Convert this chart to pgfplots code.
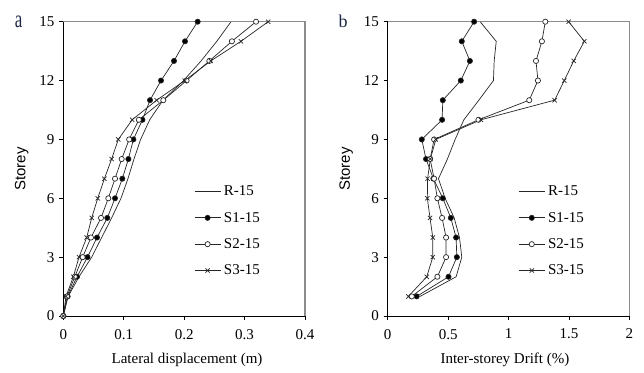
\documentclass[border=0pt]{standalone}
\usepackage{fontspec}
\usepackage{pgfplots}
\pgfplotsset{compat=1.18}
\setmainfont{Liberation Serif}
\newfontfamily\sansf{Liberation Sans}
\newcommand{\tf}{\fontsize{15bp}{18bp}\selectfont}
\definecolor{lab}{RGB}{30,40,70}
\pgfplotsset{
  base/.style={
    scale only axis, width=241.7bp, height=294.3bp,
    ymin=0, ymax=15, ytick={0,3,6,9,12,15},
    axis x line*=bottom, axis y line*=left,
    axis line style={black, line width=0.9bp},
    tick align=outside, major tick length=4bp,
    tick style={black, line width=0.8bp},
    /pgf/number format/assume math mode=true,
    ticklabel style={font=\tf},
    xticklabel style={yshift=-5.5bp},
    yticklabel style={xshift=-1.4bp},
    clip=false,
    ylabel={Storey},
    ylabel style={font=\sansf\fontsize{15bp}{18bp}\selectfont, at={(axis description cs:-0.172,0.5)}, anchor=center},
    every axis plot/.append style={line width=0.7bp, black!85, sharp plot},
    legend image code/.code={\draw[mark repeat=2,mark phase=2,##1] plot coordinates {(0bp,0bp)(13bp,0bp)(26bp,0bp)};},
    legend style={draw=none, fill=none, font=\tf, row sep=14.9bp, inner sep=0pt,
      nodes={inner xsep=3bp, inner ysep=0pt}},
    legend cell align=left,
  },
  s1/.style={mark=*, mark size=2.6bp, mark options={fill=black, solid}},
  s2/.style={mark=*, mark size=2.6bp, mark options={fill=white, solid}},
  s3/.style={mark=x, mark size=3bp, mark options={solid}},
}
\begin{document}
\begin{tikzpicture}[x=1bp,y=1bp]
\path[use as bounding box] (0,0) rectangle (644,372);
\node[font=\fontsize{17bp}{20bp}\selectfont, text=lab, anchor=base, yscale=1.45] at (18.7,344.7) {a};
\node[font=\fontsize{18bp}{20bp}\selectfont, text=lab, anchor=base] at (343,344.5) {b};
\begin{axis}[base, at={(63.3bp,56bp)}, anchor=south west,
  xmin=0, xmax=0.4, xtick={0,0.1,0.2,0.3,0.4},
  xticklabels={0,0.1,0.2,0.3,0.4},
  xlabel={Lateral displacement (m)},
  xlabel style={font=\tf, at={(axis description cs:0.512,-0.163)}, anchor=base},
  legend style={at={(axis description cs:0.541,0.443)}, anchor=north west}]
\addplot[] coordinates {(0,0)(0.008,1)(0.026,2)(0.047,3)(0.0635,4)(0.080,5)(0.0955,6)(0.107,7)(0.117,8)(0.128,9)(0.143,10)(0.165,11)(0.199,12)(0.228,13)(0.254,14)(0.2776,15)};
\addlegendentry{R-15}
\addplot[s1] coordinates {(0,0)(0.0072,1)(0.0227,2)(0.040,3)(0.0558,4)(0.0728,5)(0.0856,6)(0.0977,7)(0.1077,8)(0.116,9)(0.131,10)(0.1435,11)(0.1617,12)(0.1832,13)(0.2014,14)(0.2224,15)};
\addlegendentry{S1-15}
\addplot[s2] coordinates {(0,0)(0.006,1)(0.019,2)(0.032,3)(0.0458,4)(0.0624,5)(0.0745,6)(0.0856,7)(0.0966,8)(0.109,9)(0.125,10)(0.1655,11)(0.204,12)(0.2417,13)(0.279,14)(0.319,15)};
\addlegendentry{S2-15}
\addplot[s3] coordinates {(0,0)(0.0045,1)(0.0166,2)(0.026,3)(0.0387,4)(0.047,5)(0.057,6)(0.068,7)(0.080,8)(0.091,9)(0.114,10)(0.1545,11)(0.201,12)(0.244,13)(0.294,14)(0.339,15)};
\addlegendentry{S3-15}
\draw[black!45, line width=1.4bp] (rel axis cs:0,1) -- (rel axis cs:1,1) -- (rel axis cs:1,0);
\end{axis}
\begin{axis}[base, at={(387.7bp,56bp)}, anchor=south west,
  xmin=0, xmax=2, xtick={0,0.5,1,1.5,2},
  xticklabels={0,0.5,1,1.5,2},
  xlabel={Inter-storey Drift (\%)},
  xlabel style={font=\tf, at={(axis description cs:0.485,-0.163)}, anchor=base},
  legend style={at={(axis description cs:0.54,0.443)}, anchor=north west}]
\addplot[] coordinates {(0.268,1)(0.566,2)(0.613,3)(0.594,4)(0.55,5)(0.475,6)(0.42,7)(0.494,8)(0.558,9)(0.63,10)(0.754,11)(0.875,12)(0.881,13)(0.898,14)(0.765,15)};
\addlegendentry{R-15}
\addplot[s1] coordinates {(0.24,1)(0.503,2)(0.572,3)(0.566,4)(0.522,5)(0.456,6)(0.378,7)(0.317,8)(0.282,9)(0.45,10)(0.456,11)(0.605,12)(0.68,13)(0.613,14)(0.715,15)};
\addlegendentry{S1-15}
\addplot[s2] coordinates {(0.199,1)(0.411,2)(0.483,3)(0.483,4)(0.45,5)(0.411,6)(0.384,7)(0.351,8)(0.384,9)(0.751,10)(1.171,11)(1.243,12)(1.227,13)(1.276,14)(1.304,15)};
\addlegendentry{S2-15}
\addplot[s3] coordinates {(0.171,1)(0.323,2)(0.373,3)(0.373,4)(0.35,5)(0.328,6)(0.33,7)(0.353,8)(0.398,9)(0.771,10)(1.381,11)(1.461,12)(1.539,13)(1.627,14)(1.497,15)};
\addlegendentry{S3-15}
\draw[black!45, line width=1.4bp] (rel axis cs:0,1) -- (rel axis cs:1,1) -- (rel axis cs:1,0);
\end{axis}
\end{tikzpicture}
\end{document}
